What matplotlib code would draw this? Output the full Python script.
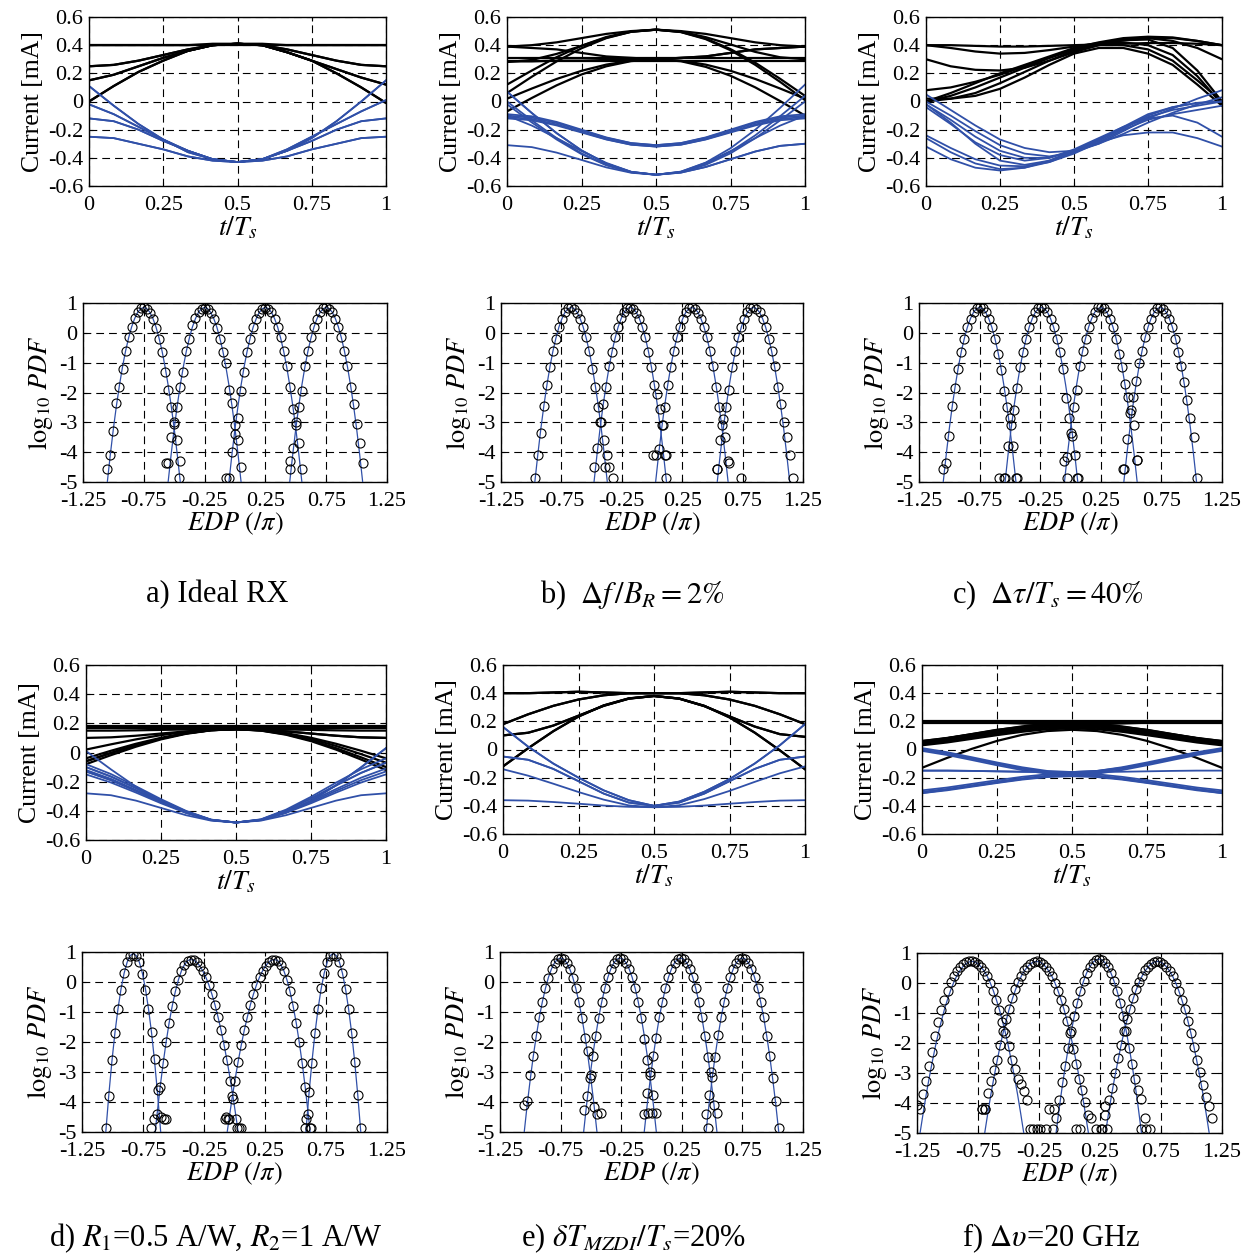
import numpy as np
import matplotlib
matplotlib.use('Agg')
import matplotlib.pyplot as plt

plt.rcParams['font.family'] = ['Liberation Serif', 'DejaVu Serif']
plt.rcParams['mathtext.fontset'] = 'stix'
plt.rcParams['axes.unicode_minus'] = False

nan = np.nan
BLUE = '#3050a8'

# ---------------- eye diagrams: current [mA], sampled every Ts/12 ----------------
t_eye = np.linspace(0, 1, 13)

eye_a_black = [
    [0.40, 0.40, 0.40, 0.40, 0.40, 0.40, 0.40, 0.40, 0.40, 0.40, 0.40, 0.40, 0.40],
    [0.25, 0.26, 0.29, 0.33, 0.37, 0.40, 0.41, 0.40, 0.37, 0.33, 0.29, 0.26, 0.25],
    [0.25, 0.26, 0.29, 0.33, 0.37, 0.40, 0.41, 0.41, 0.40, 0.40, 0.40, 0.40, 0.40],
    [0.40, 0.40, 0.40, 0.40, 0.40, 0.41, 0.41, 0.40, 0.37, 0.33, 0.29, 0.26, 0.25],
    [0.15, 0.19, 0.25, 0.31, 0.36, 0.40, 0.41, 0.40, 0.35, 0.29, 0.23, 0.17, 0.12],
    [0.00, 0.11, 0.21, 0.29, 0.36, 0.40, 0.41, 0.40, 0.35, 0.29, 0.20, 0.10, -0.01],
    [0.00, 0.11, 0.21, 0.29, 0.36, 0.40, 0.41, 0.40, 0.35, 0.29, 0.23, 0.17, 0.12],
    [0.15, 0.19, 0.25, 0.31, 0.36, 0.40, 0.41, 0.40, 0.35, 0.29, 0.20, 0.10, -0.01],
]
eye_a_blue = [
    [0.11, -0.03, -0.16, -0.27, -0.36, -0.41, -0.43, -0.41, -0.35, -0.26, -0.14, 0.00, 0.15],
    [-0.02, -0.09, -0.18, -0.27, -0.35, -0.41, -0.43, -0.41, -0.34, -0.25, -0.16, -0.07, 0.01],
    [-0.12, -0.14, -0.20, -0.28, -0.35, -0.41, -0.43, -0.41, -0.35, -0.28, -0.20, -0.14, -0.12],
    [-0.25, -0.26, -0.30, -0.34, -0.39, -0.42, -0.43, -0.42, -0.39, -0.34, -0.30, -0.26, -0.25],
    [-0.12, -0.14, -0.20, -0.28, -0.35, -0.41, -0.43, -0.41, -0.34, -0.25, -0.16, -0.07, 0.01],
    [-0.25, -0.26, -0.30, -0.34, -0.39, -0.42, -0.43, -0.41, -0.35, -0.26, -0.14, 0.00, 0.15],
    [0.11, -0.03, -0.16, -0.27, -0.36, -0.41, -0.43, -0.42, -0.39, -0.34, -0.30, -0.26, -0.25],
    [-0.02, -0.09, -0.18, -0.27, -0.35, -0.41, -0.43, -0.41, -0.35, -0.28, -0.20, -0.14, -0.12],
]

eye_b_black = [
    [0.39, 0.40, 0.42, 0.45, 0.48, 0.50, 0.51, 0.50, 0.48, 0.45, 0.42, 0.40, 0.39],
    [0.39, 0.38, 0.37, 0.345, 0.32, 0.31, 0.30, 0.31, 0.32, 0.345, 0.37, 0.38, 0.39],
    [0.28, 0.295, 0.338, 0.395, 0.453, 0.495, 0.51, 0.496, 0.457, 0.405, 0.352, 0.314, 0.30],
    [0.12, 0.22, 0.315, 0.396, 0.458, 0.497, 0.51, 0.494, 0.447, 0.372, 0.275, 0.161, 0.04],
    [0.06, 0.176, 0.285, 0.378, 0.45, 0.495, 0.51, 0.493, 0.443, 0.364, 0.26, 0.139, 0.01],
    [0.285, 0.285, 0.285, 0.285, 0.285, 0.285, 0.285, 0.285, 0.285, 0.285, 0.285, 0.285, 0.285],
    [0.31, 0.31, 0.31, 0.31, 0.31, 0.31, 0.31, 0.31, 0.31, 0.31, 0.31, 0.31, 0.31],
    [0.02, 0.092, 0.16, 0.218, 0.262, 0.29, 0.30, 0.286, 0.246, 0.183, 0.10, 0.003, -0.10],
    [-0.07, 0.025, 0.115, 0.192, 0.25, 0.287, 0.30, 0.29, 0.262, 0.218, 0.16, 0.092, 0.02],
    [0.285, 0.285, 0.29, 0.29, 0.295, 0.30, 0.30, 0.31, 0.32, 0.345, 0.37, 0.38, 0.39],
]
eye_b_blue = [
    [-0.09, -0.105, -0.145, -0.20, -0.255, -0.295, -0.31, -0.295, -0.255, -0.20, -0.145, -0.105, -0.09],
    [-0.10, -0.114, -0.153, -0.205, -0.258, -0.296, -0.31, -0.296, -0.258, -0.205, -0.153, -0.114, -0.10],
    [-0.11, -0.124, -0.163, -0.215, -0.268, -0.306, -0.32, -0.306, -0.268, -0.215, -0.163, -0.124, -0.11],
    [-0.12, -0.133, -0.17, -0.22, -0.27, -0.307, -0.32, -0.307, -0.27, -0.22, -0.17, -0.133, -0.12],
    [0.07, -0.082, -0.225, -0.347, -0.441, -0.50, -0.52, -0.498, -0.434, -0.332, -0.20, -0.045, 0.12],
    [0.00, -0.134, -0.26, -0.368, -0.45, -0.502, -0.52, -0.501, -0.445, -0.356, -0.24, -0.104, 0.04],
    [-0.02, -0.149, -0.27, -0.374, -0.453, -0.503, -0.52, -0.502, -0.45, -0.368, -0.26, -0.134, 0.00],
    [-0.31, -0.324, -0.363, -0.415, -0.468, -0.506, -0.52, -0.505, -0.465, -0.41, -0.355, -0.315, -0.30],
    [-0.10, -0.171, -0.26, -0.352, -0.436, -0.499, -0.52, -0.499, -0.436, -0.352, -0.26, -0.171, -0.10],
    [0.07, -0.082, -0.225, -0.347, -0.441, -0.50, -0.52, -0.505, -0.465, -0.41, -0.355, -0.315, -0.30],
]

eye_c_black = [
    [0.40, 0.40, 0.395, 0.39, 0.39, 0.395, 0.40, 0.405, 0.41, 0.415, 0.415, 0.41, 0.40],
    [0.40, 0.38, 0.355, 0.34, 0.345, 0.365, 0.39, 0.415, 0.44, 0.45, 0.45, 0.43, 0.40],
    [0.30, 0.25, 0.225, 0.22, 0.24, 0.29, 0.35, 0.40, 0.435, 0.45, 0.43, 0.38, 0.30],
    [0.08, 0.10, 0.14, 0.19, 0.25, 0.31, 0.37, 0.41, 0.435, 0.44, 0.38, 0.22, 0.00],
    [0.00, 0.04, 0.10, 0.17, 0.24, 0.31, 0.37, 0.41, 0.42, 0.40, 0.33, 0.18, -0.02],
    [0.00, 0.02, 0.06, 0.13, 0.21, 0.29, 0.36, 0.40, 0.40, 0.37, 0.29, 0.15, 0.00],
    [0.02, 0.02, 0.04, 0.09, 0.17, 0.26, 0.34, 0.38, 0.38, 0.34, 0.26, 0.12, -0.03],
    [0.00, 0.06, 0.13, 0.20, 0.26, 0.32, 0.38, 0.42, 0.45, 0.46, 0.455, 0.43, 0.40],
]
eye_c_blue = [
    [0.05, -0.06, -0.17, -0.27, -0.33, -0.36, -0.35, -0.30, -0.23, -0.15, -0.08, -0.02, 0.03],
    [0.00, -0.10, -0.21, -0.31, -0.37, -0.39, -0.36, -0.30, -0.21, -0.12, -0.05, 0.02, 0.08],
    [-0.02, -0.13, -0.25, -0.35, -0.40, -0.40, -0.35, -0.28, -0.19, -0.10, -0.04, -0.01, 0.00],
    [-0.04, -0.16, -0.29, -0.38, -0.42, -0.40, -0.34, -0.26, -0.18, -0.12, -0.10, -0.15, -0.25],
    [-0.24, -0.33, -0.41, -0.455, -0.46, -0.43, -0.37, -0.29, -0.20, -0.13, -0.09, -0.06, -0.03],
    [-0.26, -0.36, -0.44, -0.48, -0.47, -0.43, -0.36, -0.29, -0.24, -0.22, -0.22, -0.26, -0.32],
    [-0.32, -0.41, -0.47, -0.49, -0.47, -0.42, -0.35, -0.27, -0.19, -0.11, -0.06, -0.03, 0.00],
    [-0.02, -0.15, -0.30, -0.42, -0.45, -0.42, -0.35, -0.27, -0.18, -0.09, -0.04, -0.01, 0.00],
]

eye_d_black = [
    [0.18, 0.18, 0.18, 0.18, 0.18, 0.18, 0.18, 0.18, 0.18, 0.18, 0.18, 0.18, 0.18],
    [0.17, 0.17, 0.17, 0.17, 0.17, 0.17, 0.17, 0.17, 0.17, 0.17, 0.17, 0.17, 0.17],
    [0.15, 0.15, 0.152, 0.155, 0.158, 0.16, 0.16, 0.16, 0.158, 0.155, 0.152, 0.15, 0.15],
    [0.10, 0.104, 0.115, 0.13, 0.145, 0.156, 0.16, 0.156, 0.145, 0.13, 0.115, 0.104, 0.10],
    [0.02, 0.056, 0.09, 0.119, 0.141, 0.155, 0.16, 0.153, 0.133, 0.101, 0.06, 0.012, -0.04],
    [-0.04, 0.012, 0.06, 0.101, 0.133, 0.153, 0.16, 0.152, 0.129, 0.093, 0.045, -0.011, -0.07],
    [-0.06, -0.003, 0.05, 0.096, 0.131, 0.153, 0.16, 0.151, 0.125, 0.084, 0.03, -0.033, -0.10],
    [-0.08, -0.018, 0.04, 0.09, 0.128, 0.152, 0.16, 0.15, 0.122, 0.078, 0.02, -0.048, -0.12],
    [-0.06, -0.003, 0.05, 0.096, 0.131, 0.153, 0.16, 0.156, 0.145, 0.13, 0.115, 0.104, 0.10],
]
eye_d_blue = [
    [0.01, -0.116, -0.235, -0.336, -0.414, -0.463, -0.48, -0.463, -0.412, -0.331, -0.225, -0.102, 0.03],
    [-0.08, -0.148, -0.232, -0.32, -0.40, -0.46, -0.48, -0.458, -0.392, -0.304, -0.207, -0.115, -0.04],
    [-0.10, -0.165, -0.244, -0.328, -0.404, -0.461, -0.48, -0.46, -0.398, -0.316, -0.226, -0.14, -0.07],
    [-0.12, -0.181, -0.257, -0.336, -0.408, -0.462, -0.48, -0.462, -0.406, -0.332, -0.251, -0.173, -0.11],
    [-0.13, -0.19, -0.263, -0.34, -0.41, -0.463, -0.48, -0.463, -0.41, -0.34, -0.263, -0.19, -0.13],
    [-0.15, -0.206, -0.275, -0.348, -0.414, -0.464, -0.48, -0.464, -0.414, -0.348, -0.275, -0.206, -0.15],
    [-0.28, -0.293, -0.33, -0.38, -0.43, -0.467, -0.48, -0.467, -0.43, -0.38, -0.33, -0.293, -0.28],
    [-0.10, -0.165, -0.244, -0.328, -0.404, -0.461, -0.48, -0.463, -0.412, -0.331, -0.225, -0.102, 0.03],
    [-0.13, -0.19, -0.263, -0.34, -0.41, -0.463, -0.48, -0.46, -0.398, -0.316, -0.226, -0.14, -0.07],
]

eye_e_black = [
    [0.40, 0.40, 0.405, 0.41, 0.405, 0.40, 0.40, 0.40, 0.405, 0.41, 0.405, 0.40, 0.40],
    [0.18, 0.25, 0.31, 0.355, 0.385, 0.40, 0.40, 0.40, 0.385, 0.355, 0.31, 0.25, 0.18],
    [0.10, 0.119, 0.17, 0.24, 0.31, 0.361, 0.38, 0.361, 0.308, 0.235, 0.163, 0.109, 0.09],
    [-0.12, 0.009, 0.13, 0.234, 0.313, 0.363, 0.38, 0.362, 0.31, 0.228, 0.12, -0.006, -0.14],
    [0.10, 0.119, 0.17, 0.24, 0.31, 0.361, 0.38, 0.362, 0.31, 0.228, 0.12, -0.006, -0.14],
    [-0.12, 0.009, 0.13, 0.234, 0.313, 0.363, 0.38, 0.361, 0.308, 0.235, 0.163, 0.109, 0.09],
    [0.40, 0.40, 0.405, 0.41, 0.405, 0.40, 0.40, 0.40, 0.385, 0.355, 0.31, 0.25, 0.18],
    [0.18, 0.25, 0.31, 0.355, 0.385, 0.40, 0.40, 0.40, 0.405, 0.41, 0.405, 0.40, 0.40],
]
eye_e_blue = [
    [0.16, 0.02, -0.10, -0.20, -0.29, -0.36, -0.40, -0.37, -0.30, -0.21, -0.10, 0.03, 0.18],
    [-0.05, -0.073, -0.138, -0.225, -0.313, -0.377, -0.40, -0.377, -0.313, -0.225, -0.138, -0.073, -0.05],
    [-0.14, -0.186, -0.243, -0.302, -0.356, -0.397, -0.41, -0.396, -0.352, -0.294, -0.23, -0.169, -0.12],
    [-0.36, -0.363, -0.373, -0.385, -0.398, -0.407, -0.41, -0.407, -0.398, -0.385, -0.373, -0.363, -0.36],
    [-0.05, -0.073, -0.138, -0.225, -0.313, -0.377, -0.40, -0.37, -0.30, -0.21, -0.10, 0.03, 0.18],
    [0.16, 0.02, -0.10, -0.20, -0.29, -0.36, -0.40, -0.377, -0.313, -0.225, -0.138, -0.073, -0.05],
]

eye_f_black = [
    [0.20, 0.20, 0.20, 0.20, 0.20, 0.20, 0.20, 0.20, 0.20, 0.20, 0.20, 0.20, 0.20],
    [0.19, 0.19, 0.19, 0.19, 0.19, 0.19, 0.19, 0.19, 0.19, 0.19, 0.19, 0.19, 0.19],
    [0.06, 0.08, 0.106, 0.132, 0.156, 0.174, 0.18, 0.174, 0.156, 0.132, 0.106, 0.08, 0.06],
    [0.05, 0.07, 0.096, 0.122, 0.146, 0.164, 0.17, 0.164, 0.146, 0.122, 0.096, 0.07, 0.05],
    [0.04, 0.06, 0.086, 0.112, 0.136, 0.154, 0.16, 0.154, 0.136, 0.112, 0.086, 0.06, 0.04],
    [0.03, 0.05, 0.076, 0.102, 0.126, 0.144, 0.15, 0.144, 0.126, 0.102, 0.076, 0.05, 0.03],
    [0.06, 0.082, 0.109, 0.138, 0.164, 0.184, 0.19, 0.184, 0.164, 0.138, 0.109, 0.082, 0.06],
    [-0.13, -0.06, 0.005, 0.061, 0.104, 0.131, 0.14, 0.131, 0.104, 0.061, 0.005, -0.06, -0.13],
    [0.20, 0.20, 0.195, 0.19, 0.185, 0.18, 0.175, 0.17, 0.16, 0.14, 0.11, 0.08, 0.05],
    [0.05, 0.08, 0.11, 0.14, 0.16, 0.17, 0.175, 0.18, 0.185, 0.19, 0.195, 0.20, 0.20],
]
eye_f_blue = [
    [0.01, -0.019, -0.055, -0.092, -0.126, -0.152, -0.16, -0.152, -0.126, -0.092, -0.055, -0.019, 0.01],
    [0.00, -0.029, -0.065, -0.102, -0.136, -0.162, -0.17, -0.162, -0.136, -0.102, -0.065, -0.029, 0.00],
    [-0.01, -0.039, -0.075, -0.112, -0.146, -0.172, -0.18, -0.172, -0.146, -0.112, -0.075, -0.039, -0.01],
    [-0.31, -0.29, -0.264, -0.238, -0.214, -0.196, -0.19, -0.196, -0.214, -0.238, -0.264, -0.29, -0.31],
    [-0.30, -0.28, -0.254, -0.228, -0.204, -0.186, -0.18, -0.186, -0.204, -0.228, -0.254, -0.28, -0.30],
    [-0.29, -0.27, -0.244, -0.218, -0.194, -0.176, -0.17, -0.176, -0.194, -0.218, -0.244, -0.27, -0.29],
    [-0.15, -0.15, -0.152, -0.155, -0.158, -0.16, -0.16, -0.16, -0.158, -0.155, -0.152, -0.15, -0.15],
    [0.00, -0.029, -0.065, -0.10, -0.135, -0.16, -0.175, -0.19, -0.21, -0.235, -0.26, -0.285, -0.31],
    [-0.31, -0.285, -0.26, -0.235, -0.21, -0.19, -0.175, -0.16, -0.135, -0.10, -0.065, -0.029, 0.00],
    [-0.15, -0.15, -0.152, -0.155, -0.158, -0.16, -0.16, -0.152, -0.13, -0.102, -0.065, -0.029, 0.00],
]

# ---------------- EDP histograms: log10 PDF, bins 0.025 pi apart around each peak ----------------
pdf_step = 0.025

fit_narrow = [-5.0, -4.07, -3.21, -2.44, -1.75, -1.14, -0.61, -0.17, 0.20, 0.48, 0.69, 0.81, 0.85,
              0.81, 0.69, 0.48, 0.20, -0.17, -0.61, -1.14, -1.75, -2.44, -3.21, -4.07, -5.0]

pdf_a_centers = [-0.75, -0.25, 0.25, 0.75]
pdf_a = [
    [-4.55, -4.1, -3.3, -2.35, -1.8, -1.2, -0.6, -0.15, 0.2, 0.5, 0.7, 0.82, 0.86, 0.8, 0.68, 0.45, 0.15, -0.2, -0.65, -1.3, -1.9, -2.5, -3.0, -3.6, -4.3],
    [-4.35, -3.5, -3.05, -2.5, -1.8, -1.3, -0.6, -0.2, 0.25, 0.5, 0.7, 0.8, 0.82, 0.8, 0.68, 0.45, 0.15, -0.2, -0.65, -1.0, -1.9, -2.35, -3.1, -3.6, -4.5],
    [-4.85, -4.0, -3.4, -2.85, -1.95, -1.3, -0.65, -0.2, 0.2, 0.45, 0.68, 0.8, 0.83, 0.8, 0.7, 0.48, 0.2, -0.15, -0.6, -1.1, -1.8, -2.55, -3.0, -3.7, -4.55],
    [-4.3, -3.85, -3.1, -2.5, -1.95, -1.1, -0.6, -0.15, 0.2, 0.45, 0.7, 0.82, 0.86, 0.8, 0.7, 0.45, 0.2, -0.15, -0.6, -1.1, -1.8, -2.4, -3.05, -3.7, -4.35],
]
pdf_a_fits = [fit_narrow] * 4
pdf_a_extra_x = [-0.57, -0.46, -0.07, 0.45]
pdf_a_extra_y = [-4.35, -4.85, -4.85, -4.55]

pdf_b_centers = [-0.67, -0.18, 0.33, 0.84]
pdf_b = [
    [-4.85, -4.1, -3.35, -2.45, -1.75, -1.15, -0.6, -0.2, 0.2, 0.45, 0.7, 0.82, 0.86, 0.8, 0.68, 0.47, 0.2, -0.15, -0.6, -1.2, -1.8, -2.5, -3.0, -3.6, -4.1],
    [-4.5, -3.85, -3.0, -2.4, -1.8, -1.1, -0.65, -0.15, 0.2, 0.5, 0.7, 0.82, 0.84, 0.8, 0.68, 0.45, 0.2, -0.15, -0.65, -1.15, -1.75, -2.05, -2.55, -3.1, -4.1],
    [-4.1, -3.9, -3.1, -2.5, -1.75, -1.15, -0.6, -0.15, 0.2, 0.48, 0.7, 0.82, 0.85, 0.8, 0.68, 0.48, 0.2, -0.15, -0.6, -1.1, -1.8, -2.5, -3.1, -3.5, -4.3],
    [-4.55, -3.6, -2.9, -2.5, -1.9, -1.15, -0.6, -0.15, 0.2, 0.48, 0.7, 0.82, 0.85, 0.81, 0.7, 0.48, 0.2, -0.2, -0.6, -1.1, -1.8, -2.4, -3.0, -3.5, -4.1],
]
pdf_b_fits = [fit_narrow] * 4
pdf_b_extra_x = [-0.39, -0.36, -0.32, 0.01, 0.11, 0.12, 0.54, 0.64, 0.74, 1.17]
pdf_b_extra_y = [-4.5, -4.5, -4.85, -4.1, -4.1, -4.85, -4.55, -4.35, -4.85, -4.85]

pdf_c_centers = [-0.75, -0.24, 0.25, 0.74]
pdf_c = [
    [-4.55, -4.35, -3.45, -2.45, -1.85, -1.2, -0.65, -0.2, 0.2, 0.48, 0.7, 0.82, 0.87, 0.82, 0.7, 0.48, 0.2, -0.2, -0.7, -1.25, -1.95, -2.5, -2.85, -3.8, -4.85],
    [-4.85, -3.8, -3.1, -2.6, -1.85, -1.15, -0.65, -0.2, 0.2, 0.48, 0.7, 0.82, 0.86, 0.82, 0.7, 0.48, 0.2, -0.2, -0.65, -1.2, -2.2, -2.85, -3.45, -4.1, -4.85],
    [-4.3, -4.15, -3.35, -2.5, -1.9, -1.1, -0.6, -0.2, 0.2, 0.5, 0.7, 0.85, 0.88, 0.82, 0.7, 0.45, 0.2, -0.2, -0.7, -1.15, -1.7, -2.15, -2.6, -3.1, -4.25],
    [-4.55, -3.55, -2.7, -2.15, -1.6, -1.0, -0.6, -0.15, 0.2, 0.48, 0.7, 0.82, 0.86, 0.8, 0.68, 0.48, 0.2, -0.2, -0.65, -1.1, -1.65, -2.25, -2.85, -3.5, -4.85],
]
pdf_c_fits = [fit_narrow] * 4
pdf_c_extra_x = [-0.59, -0.55, -0.44, -0.03, 0.05, 0.43, 0.55]
pdf_c_extra_y = [-4.85, -4.85, -4.85, -4.85, -4.85, -4.55, -4.25]

fit_d_outer = [-5.0, -3.75, -2.65, -1.69, -0.89, -0.23, 0.29, 0.66, 0.88, 0.95,
               0.88, 0.66, 0.29, -0.23, -0.89, -1.69, -2.65, -3.75, -5.0]
fit_d2 = [nan, nan, nan, nan, -5.4, -4.42, -3.52, -2.71, -1.99, -1.34, -0.79, -0.32, 0.07, 0.37, 0.58, 0.71, 0.75,
          0.73, 0.66, 0.54, 0.37, 0.16, -0.10, -0.41, -0.76, -1.17, -1.61, -2.11, -2.65, -3.24, -3.88, -4.57, -5.3]
fit_d3 = [-5.3, -4.57, -3.88, -3.24, -2.65, -2.11, -1.61, -1.17, -0.76, -0.41, -0.10, 0.16, 0.37, 0.54, 0.66, 0.73, 0.75,
          0.71, 0.58, 0.37, 0.07, -0.32, -0.79, -1.34, -1.99, -2.71, -3.52, -4.42, -5.4, nan, nan, nan, nan]
pdf_d_centers = [-0.83, -0.36, 0.33, 0.81]
pdf_d = [
    [-4.85, -3.8, -2.6, -1.7, -0.9, -0.25, 0.3, 0.66, 0.88, 0.95, 0.88, 0.66, 0.28, -0.25, -0.9, -1.65, -2.55, -3.6, -4.5],
    [nan, nan, nan, -4.85, -4.55, -4.4, -3.5, -2.7, -2.0, -1.35, -0.8, -0.3, 0.07, 0.37, 0.58, 0.71, 0.75,
     0.73, 0.66, 0.54, 0.37, 0.16, -0.1, -0.41, -0.76, -1.17, -1.6, -2.1, -2.6, -3.3, -3.9, -4.55, -4.85],
    [-4.5, -4.55, -3.8, -3.3, -2.65, -2.1, -1.6, -1.15, -0.76, -0.41, -0.1, 0.16, 0.37, 0.54, 0.66, 0.73, 0.75,
     0.71, 0.58, 0.37, 0.07, -0.3, -0.8, -1.35, -2.0, -2.7, -3.5, -4.4, -4.85, nan, nan, nan, nan],
    [-4.55, -3.65, -2.7, -1.7, -0.9, -0.2, 0.3, 0.66, 0.88, 0.95, 0.88, 0.66, 0.29, -0.23, -0.9, -1.7, -2.65, -3.75, -4.85],
]
pdf_d_fits = [fit_d_outer, fit_d2, fit_d3, fit_d_outer]
pdf_d_extra_x = [-0.58, -0.56, -0.08, -0.05, 0.02, 0.05, 0.58, 0.62]
pdf_d_extra_y = [-4.55, -4.55, -4.55, -4.55, -4.85, -4.85, -4.85, -4.85]

fit_e = [-5.0, -4.07, -3.23, -2.46, -1.78, -1.17, -0.65, -0.21, 0.16, 0.44, 0.64, 0.76, 0.80,
         0.76, 0.64, 0.44, 0.16, -0.21, -0.65, -1.17, -1.78, -2.46, -3.23, -4.07, -5.0]
pdf_e_centers = [-0.75, -0.26, 0.24, 0.75]
pdf_e = [
    [-4.1, -3.95, -3.1, -2.45, -1.8, -1.15, -0.65, -0.2, 0.15, 0.45, 0.65, 0.76, 0.8, 0.76, 0.63, 0.45, 0.15, -0.2, -0.65, -1.2, -1.85, -2.3, -3.1, -4.15, -4.4],
    [-4.25, -3.8, -3.2, -2.45, -1.8, -1.2, -0.65, -0.2, 0.16, 0.44, 0.64, 0.76, 0.8, 0.76, 0.64, 0.44, 0.16, -0.2, -0.65, -1.2, -1.9, -2.6, -3.1, -3.75, -4.35],
    [-4.4, -3.7, -3.0, -2.45, -1.85, -1.15, -0.65, -0.2, 0.16, 0.44, 0.64, 0.76, 0.8, 0.76, 0.64, 0.44, 0.16, -0.2, -0.65, -1.15, -1.8, -2.5, -3.0, -4.1, -4.35],
    [-4.4, -3.75, -3.15, -2.5, -1.75, -1.15, -0.65, -0.2, 0.16, 0.44, 0.64, 0.76, 0.8, 0.76, 0.64, 0.44, 0.16, -0.2, -0.65, -1.15, -1.8, -2.45, -3.2, -3.95, -4.85],
]
pdf_e_fits = [fit_e] * 4
pdf_e_extra_x = [-0.42, -0.03, 0.0, 0.47]
pdf_e_extra_y = [-4.35, -4.35, -4.35, -4.85]

fit_f = [-5.0, -4.35, -3.73, -3.16, -2.63, -2.13, -1.67, -1.26, -0.88, -0.55, -0.25, 0.01, 0.23, 0.40, 0.54, 0.64, 0.70, 0.72,
         0.70, 0.64, 0.54, 0.40, 0.23, 0.01, -0.25, -0.55, -0.88, -1.26, -1.67, -2.13, -2.63, -3.16, -3.73, -4.35, -5.0]
fit_f3 = [-5.0, -4.2, -3.46, -2.78, -2.16, -1.6, -1.09, -0.65, -0.27, 0.06, 0.33, 0.53, 0.68, 0.77, 0.8,
          0.77, 0.68, 0.53, 0.33, 0.06, -0.27, -0.65, -1.09, -1.6, -2.16, -2.78, -3.46, -4.2, -5.0]
pdf_f_centers = [-0.8, -0.27, 0.24, 0.72]
pdf_f = [
    [-4.05, -4.2, -3.7, -3.25, -2.75, -2.3, -1.75, -1.3, -0.9, -0.55, -0.25, 0.02, 0.23, 0.4, 0.54, 0.64, 0.7, 0.73, 0.72,
     0.7, 0.64, 0.54, 0.4, 0.23, 0.01, -0.25, -0.55, -0.9, -1.3, -1.65, -2.1, -2.55, -2.85, -3.2, -3.35, -3.6, -3.9],
    [-4.2, -4.2, -3.65, -3.25, -2.9, -2.55, -2.05, -1.6, -1.2, -0.85, -0.5, -0.2, 0.05, 0.25, 0.42, 0.55, 0.65, 0.7, 0.72,
     0.7, 0.65, 0.55, 0.4, 0.23, 0.0, -0.25, -0.55, -0.85, -1.25, -1.65, -2.2, -2.7, -3.2, -3.55, -3.95, -4.4, -4.5],
    [nan, nan, nan, -4.85, -4.5, -3.9, -3.3, -2.75, -2.15, -1.6, -1.1, -0.65, -0.27, 0.06, 0.33, 0.53, 0.68, 0.77, 0.8,
     0.77, 0.68, 0.53, 0.33, 0.06, -0.27, -0.65, -1.1, -1.6, -2.15, -2.7, -3.2, -3.55, -3.85, -4.5, nan, nan, nan],
    [-4.85, -4.4, -3.9, -3.5, -3.0, -2.5, -2.05, -1.6, -1.2, -0.85, -0.5, -0.2, 0.05, 0.25, 0.42, 0.55, 0.65, 0.7, 0.72,
     0.7, 0.64, 0.54, 0.4, 0.23, 0.01, -0.25, -0.55, -0.88, -1.26, -1.67, -2.13, -2.55, -2.95, -3.4, -3.8, -4.1, -4.5],
]
pdf_f_fits = [fit_f, fit_f, fit_f3, fit_f]
pdf_f_extra_x = [-0.72, -0.69, -0.32, -0.3, -0.27, -0.24, -0.19, -0.17, -0.13, 0.05, 0.09, 0.22, 0.26, 0.29, 0.31, 0.59, 0.63, 0.66]
pdf_f_extra_y = [-4.2, -4.2, -4.85, -4.85, -4.85, -4.85, -4.85, -4.2, -4.2, -4.85, -4.85, -4.85, -4.85, -4.1, -4.85, -4.85, -4.85, -4.85]

captions = [
    'a) Ideal RX',
    r'b)  $\mathit{\Delta f}\,/B_R = 2\%$',
    r'c)  $\Delta\tau/T_s = 40\%$',
    r'd) $R_1$=0.5 A/W, $R_2$=1 A/W',
    r'e) $\delta T_{MZDI}/T_s$=20%',
    r'f) $\Delta\upsilon$=20 GHz',
]

# ---------------- figure ----------------
W, H = 1251, 1256
fig = plt.figure(figsize=(W / 100, H / 100), dpi=100)
fig.patch.set_facecolor('white')


def px_axes(l, t, r, b):
    return fig.add_axes([l / W, 1 - b / H, (r - l) / W, (b - t) / H])


def style(ax):
    ax.set_axisbelow(True)
    ax.grid(True, color='k', linestyle=(0, (7, 4.5)), linewidth=0.8)
    ax.tick_params(direction='in', length=3, labelsize=16, top=True, right=True)
    ax.tick_params(axis='x', pad=7)
    ax.tick_params(axis='y', pad=4)
    for s in ax.spines.values():
        s.set_linewidth(1.0)


def eye(ax, black, blue):
    for c in black:
        ax.plot(t_eye, c, color='k', lw=1.6)
    for c in blue:
        ax.plot(t_eye, c, color=BLUE, lw=1.3)
    ax.set_xlim(0, 1)
    ax.set_ylim(-0.6, 0.6)
    ax.set_xticks([0, 0.25, 0.5, 0.75, 1])
    ax.set_xticklabels(['0', '0.25', '0.5', '0.75', '1'])
    ax.set_yticks([-0.6, -0.4, -0.2, 0, 0.2, 0.4, 0.6])
    ax.set_yticklabels(['-0.6', '-0.4', '-0.2', '0', '0.2', '0.4', '0.6'])
    style(ax)
    ax.set_ylabel('Current [mA]', fontsize=18.5, labelpad=3)
    ax.set_xlabel(r'$t/T_s$', fontsize=20, labelpad=0)


def pdf(ax, centers, circles, fits, ex, ey):
    for c, y, f in zip(centers, circles, fits):
        y = np.array(y, dtype=float)
        f = np.array(f, dtype=float)
        xc = c + pdf_step * (np.arange(len(y)) - (len(y) - 1) / 2)
        xf = c + pdf_step * (np.arange(len(f)) - (len(f) - 1) / 2)
        ax.plot(xf, f, color=BLUE, lw=0.9, zorder=3)
        ax.plot(xc, y, 'o', mfc='none', mec='k', ms=6.5, mew=0.8, zorder=4)
    ax.plot(ex, ey, 'o', mfc='none', mec='k', ms=6.5, mew=0.8, zorder=4)
    ax.set_xlim(-1.25, 1.25)
    ax.set_ylim(-5, 1)
    ax.set_xticks([-1.25, -0.75, -0.25, 0.25, 0.75, 1.25])
    ax.set_xticklabels(['-1.25', '-0.75', '-0.25', '0.25', '0.75', '1.25'])
    ax.set_yticks([-5, -4, -3, -2, -1, 0, 1])
    ax.set_yticklabels(['-5', '-4', '-3', '-2', '-1', '0', '1'])
    style(ax)
    ax.set_ylabel(r'$\mathrm{log}_{10}\ PDF$', fontsize=19, labelpad=3)
    ax.set_xlabel(r'$EDP\ (/\pi)$', fontsize=19, labelpad=0)


eye(px_axes(89, 17, 386, 186), eye_a_black, eye_a_blue)
eye(px_axes(507, 17, 805, 186), eye_b_black, eye_b_blue)
eye(px_axes(926, 17, 1222, 186), eye_c_black, eye_c_blue)
pdf(px_axes(83, 303, 387, 482), pdf_a_centers, pdf_a, pdf_a_fits, pdf_a_extra_x, pdf_a_extra_y)
pdf(px_axes(501, 303, 803, 482), pdf_b_centers, pdf_b, pdf_b_fits, pdf_b_extra_x, pdf_b_extra_y)
pdf(px_axes(919, 303, 1222, 482), pdf_c_centers, pdf_c, pdf_c_fits, pdf_c_extra_x, pdf_c_extra_y)

eye(px_axes(86, 665, 386, 840), eye_d_black, eye_d_blue)
eye(px_axes(503, 665, 805, 834), eye_e_black, eye_e_blue)
eye(px_axes(922, 665, 1222, 834), eye_f_black, eye_f_blue)
pdf(px_axes(82, 952, 387, 1132), pdf_d_centers, pdf_d, pdf_d_fits, pdf_d_extra_x, pdf_d_extra_y)
pdf(px_axes(500, 952, 803, 1132), pdf_e_centers, pdf_e, pdf_e_fits, pdf_e_extra_x, pdf_e_extra_y)
pdf(px_axes(917, 953, 1222, 1133), pdf_f_centers, pdf_f, pdf_f_fits, pdf_f_extra_x, pdf_f_extra_y)

# sub-figure captions
cap_x = [217, 632, 1048, 216, 633, 1051]
cap_y = [595, 595, 595, 1238, 1238, 1238]
for s, x, y in zip(captions, cap_x, cap_y):
    fig.text(x / W, 1 - y / H, s, fontsize=22, ha='center', va='center')

fig.savefig('out.png', dpi=100)
